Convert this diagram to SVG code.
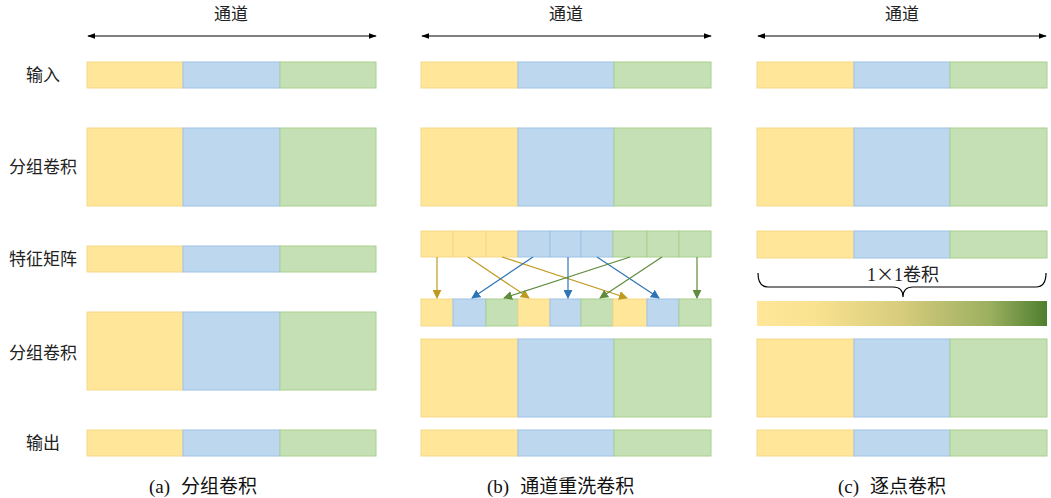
<svg xmlns="http://www.w3.org/2000/svg" width="1051" height="498" viewBox="0 0 1051 498">
<style>
.y{fill:#FFE699;stroke:#F4D98A;stroke-width:1}
.b{fill:#BDD7EE;stroke:#9DC3E6;stroke-width:1}
.g{fill:#C5E0B4;stroke:#A9D18E;stroke-width:1}
.t{font-family:"Noto Sans CJK SC","Noto Sans",sans-serif;font-size:16px;fill:#222}
.r{font-size:17px}
.cap{font-family:"Liberation Serif","Noto Sans CJK SC",serif;font-size:19px;fill:#111}
.ax{stroke:#000;stroke-width:1;fill:none;marker-start:url(#ah);marker-end:url(#ah)}
.ya{stroke:#BF9A1E;stroke-width:1.2;fill:none;marker-end:url(#my)}
.ba{stroke:#2E75B6;stroke-width:1.2;fill:none;marker-end:url(#mb)}
.ga{stroke:#5E8C3C;stroke-width:1.2;fill:none;marker-end:url(#mg)}
</style>
<defs>
<marker id="ah" viewBox="0 0 10 10" refX="9" refY="5" markerWidth="8" markerHeight="8" orient="auto-start-reverse" markerUnits="userSpaceOnUse"><path d="M0,1.5 L10,5 L0,8.5 z" fill="#000"/></marker>
<marker id="my" viewBox="0 0 10 10" refX="9" refY="5" markerWidth="9" markerHeight="9" orient="auto" markerUnits="userSpaceOnUse"><path d="M0,0 L10,5 L0,10 z" fill="#BF9A1E"/></marker>
<marker id="mb" viewBox="0 0 10 10" refX="9" refY="5" markerWidth="9" markerHeight="9" orient="auto" markerUnits="userSpaceOnUse"><path d="M0,0 L10,5 L0,10 z" fill="#2E75B6"/></marker>
<marker id="mg" viewBox="0 0 10 10" refX="9" refY="5" markerWidth="9" markerHeight="9" orient="auto" markerUnits="userSpaceOnUse"><path d="M0,0 L10,5 L0,10 z" fill="#5E8C3C"/></marker>
<linearGradient id="grad" x1="0" y1="0" x2="1" y2="0">
<stop offset="0" stop-color="#FFE699"/>
<stop offset="0.2" stop-color="#F9E290"/>
<stop offset="0.5" stop-color="#D6CC7C"/>
<stop offset="0.8" stop-color="#9CB060"/>
<stop offset="1" stop-color="#4E7F2E"/>
</linearGradient>
</defs>
<rect width="1051" height="498" fill="#fff"/>

<g id="row-labels">
<text class="t r" x="43" y="81" text-anchor="middle">输入</text>
<text class="t r" x="43" y="173" text-anchor="middle">分组卷积</text>
<text class="t r" x="43" y="265" text-anchor="middle">特征矩阵</text>
<text class="t r" x="43" y="359" text-anchor="middle">分组卷积</text>
<text class="t r" x="43" y="449" text-anchor="middle">输出</text>
</g>

<g id="headers">
<text class="t r" x="231" y="20" text-anchor="middle">通道</text>
<text class="t r" x="566" y="20" text-anchor="middle">通道</text>
<text class="t r" x="902" y="20" text-anchor="middle">通道</text>
</g>

<g id="col-a">
<g id="a-input"><rect class="y" x="87" y="62" width="96" height="26"/><rect class="b" x="183" y="62" width="97" height="26"/><rect class="g" x="280" y="62" width="96" height="26"/></g>
<g id="a-conv1"><rect class="y" x="87" y="128" width="96" height="78"/><rect class="b" x="183" y="128" width="97" height="78"/><rect class="g" x="280" y="128" width="96" height="78"/></g>
<g id="a-feat"><rect class="y" x="87" y="246" width="96" height="26"/><rect class="b" x="183" y="246" width="97" height="26"/><rect class="g" x="280" y="246" width="96" height="26"/></g>
<g id="a-conv2"><rect class="y" x="87" y="312" width="96" height="78"/><rect class="b" x="183" y="312" width="97" height="78"/><rect class="g" x="280" y="312" width="96" height="78"/></g>
<g id="a-output"><rect class="y" x="87" y="430" width="96" height="26"/><rect class="b" x="183" y="430" width="97" height="26"/><rect class="g" x="280" y="430" width="96" height="26"/></g>
<text class="cap" x="149" y="493">(a)<tspan dx="11">分组卷积</tspan></text>
</g>

<g id="col-b">
<g id="b-input"><rect class="y" x="421" y="62" width="97" height="26"/><rect class="b" x="518" y="62" width="96" height="26"/><rect class="g" x="614" y="62" width="97" height="26"/></g>
<g id="b-conv1"><rect class="y" x="421" y="128" width="97" height="78"/><rect class="b" x="518" y="128" width="96" height="78"/><rect class="g" x="614" y="128" width="97" height="78"/></g>
<g id="b-feat">
<rect class="y" x="421" y="231" width="32" height="26"/><rect class="y" x="453" y="231" width="33" height="26"/><rect class="y" x="486" y="231" width="32" height="26"/>
<rect class="b" x="518" y="231" width="32" height="26"/><rect class="b" x="550" y="231" width="31" height="26"/><rect class="b" x="581" y="231" width="32" height="26"/>
<rect class="g" x="613" y="231" width="34" height="26"/><rect class="g" x="647" y="231" width="32" height="26"/><rect class="g" x="679" y="231" width="32" height="26"/>
</g>
<g id="b-shuffled">
<rect class="y" x="421" y="299" width="32" height="27"/><rect class="b" x="453" y="299" width="33" height="27"/><rect class="g" x="486" y="299" width="32" height="27"/>
<rect class="y" x="518" y="299" width="32" height="27"/><rect class="b" x="550" y="299" width="31" height="27"/><rect class="g" x="581" y="299" width="32" height="27"/>
<rect class="y" x="613" y="299" width="34" height="27"/><rect class="b" x="647" y="299" width="32" height="27"/><rect class="g" x="679" y="299" width="32" height="27"/>
</g>
<g id="b-conv2"><rect class="y" x="421" y="339" width="97" height="78"/><rect class="b" x="518" y="339" width="96" height="78"/><rect class="g" x="614" y="339" width="97" height="78"/></g>
<g id="b-output"><rect class="y" x="421" y="430" width="97" height="26"/><rect class="b" x="518" y="430" width="96" height="26"/><rect class="g" x="614" y="430" width="97" height="26"/></g>
<text class="cap" x="487" y="493">(b)<tspan dx="11">通道重洗卷积</tspan></text>
</g>

<g id="col-c">
<g id="c-input"><rect class="y" x="757" y="62" width="97" height="26"/><rect class="b" x="854" y="62" width="96" height="26"/><rect class="g" x="950" y="62" width="97" height="26"/></g>
<g id="c-conv1"><rect class="y" x="757" y="128" width="97" height="78"/><rect class="b" x="854" y="128" width="96" height="78"/><rect class="g" x="950" y="128" width="97" height="78"/></g>
<g id="c-feat"><rect class="y" x="757" y="231" width="97" height="27"/><rect class="b" x="854" y="231" width="96" height="27"/><rect class="g" x="950" y="231" width="97" height="27"/></g>
<g id="c-brace">
<text class="t" x="903" y="281" text-anchor="middle" style="font-family:'Liberation Serif','Noto Sans CJK SC',serif;font-size:18px">1<tspan style="font-family:'Noto Sans CJK SC',sans-serif">×</tspan>1卷积</text>
<path d="M758,273 Q758,287 768,287 L893,287 Q903,287 903,297 Q903,287 913,287 L1036,287 Q1046,287 1046,273" fill="none" stroke="#000" stroke-width="1.2"/>
</g>
<g id="c-pointwise"><rect x="757" y="301" width="290" height="25" fill="url(#grad)"/></g>
<g id="c-conv2"><rect class="y" x="757" y="339" width="97" height="78"/><rect class="b" x="854" y="339" width="96" height="78"/><rect class="g" x="950" y="339" width="97" height="78"/></g>
<g id="c-output"><rect class="y" x="757" y="430" width="97" height="26"/><rect class="b" x="854" y="430" width="96" height="26"/><rect class="g" x="950" y="430" width="97" height="26"/></g>
<text class="cap" x="838" y="493">(c)<tspan dx="11">逐点卷积</tspan></text>
</g>

<g id="connectors">
<line class="ax" x1="88" y1="36" x2="376" y2="36"/>
<line class="ax" x1="422" y1="36" x2="711" y2="36"/>
<line class="ax" x1="758" y1="36" x2="1046" y2="36"/>
<line class="ya" x1="437" y1="257" x2="437" y2="298"/>
<line class="ya" x1="468" y1="257" x2="529" y2="298"/>
<line class="ya" x1="502" y1="257" x2="627" y2="298"/>
<line class="ba" x1="533" y1="257" x2="472" y2="298"/>
<line class="ba" x1="568" y1="257" x2="568" y2="298"/>
<line class="ba" x1="597" y1="257" x2="659" y2="298"/>
<line class="ga" x1="630" y1="257" x2="504" y2="298"/>
<line class="ga" x1="662" y1="257" x2="600" y2="298"/>
<line class="ga" x1="697" y1="257" x2="697" y2="298"/>
</g>
</svg>
